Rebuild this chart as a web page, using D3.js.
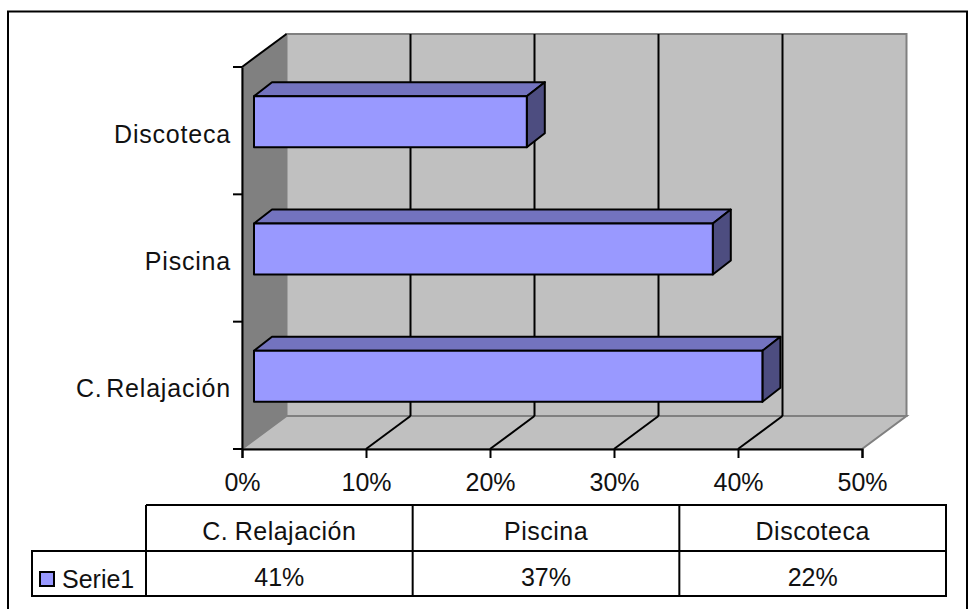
<!DOCTYPE html>
<html>
<head>
<meta charset="utf-8">
<script src="https://cdn.jsdelivr.net/npm/d3@7/dist/d3.min.js"></script>
<style>
html, body { margin: 0; padding: 0; background: #fff; }
svg { display: block; }
text { font-family: "Liberation Sans", Arial, sans-serif; font-size: 25px; fill: #111; }
.cat-axis text { letter-spacing: 0.8px; word-spacing: -4px; }
.cat-head text { letter-spacing: 0.5px; word-spacing: -1px; }
</style>
</head>
<body>
<svg id="chart" width="968" height="609"></svg>
<script>
// Survey results: preferred facilities, as percentages
const categories = ["C. Relajación", "Piscina", "Discoteca"];
const values = [41, 37, 22];
const seriesName = "Serie1";
const xTicks = [0, 10, 20, 30, 40, 50];

const colors = {
  wallBack: "#c0c0c0", wallSide: "#808080", floor: "#c0c0c0", edge: "#808080",
  barFront: "#9999ff", barTop: "#7373bf", barSide: "#4d4d80"
};

const svg = d3.select("#chart");

// Outer chart-area frame; its lower edge runs off the page
svg.append("rect")
  .attr("x", 8).attr("y", 11.5).attr("width", 959).attr("height", 610)
  .attr("fill", "#fff").attr("stroke", "#000").attr("stroke-width", 2);

// Front plane of the 3D box and the projection offset to the back plane
const x = d3.scaleLinear().domain([0, 50]).range([242, 862]);
const y = d3.scaleBand().domain(categories).range([449, 67]);
const depth = { dx: 44.5, dy: -33 };
const barInset = { dx: 12, dy: -9 };
const barDepth = { dx: 18, dy: -14 };
const barThickness = 51;

const pts = a => a.map(p => p.join(",")).join(" ");
const [x0, x1] = x.range();
const [yB, yT] = y.range();

// Back wall, side wall, floor
svg.append("polygon")
  .attr("points", pts([[x0 + depth.dx, yT + depth.dy], [x1 + depth.dx, yT + depth.dy], [x1 + depth.dx, yB + depth.dy], [x0 + depth.dx, yB + depth.dy]]))
  .attr("fill", colors.wallBack).attr("stroke", colors.edge).attr("stroke-width", 2);
svg.append("polygon")
  .attr("points", pts([[x0, yT], [x0 + depth.dx, yT + depth.dy], [x0 + depth.dx, yB + depth.dy], [x0, yB]]))
  .attr("fill", colors.wallSide).attr("stroke", colors.edge).attr("stroke-width", 1);
svg.append("polygon")
  .attr("points", pts([[x0, yB], [x1, yB], [x1 + depth.dx, yB + depth.dy], [x0 + depth.dx, yB + depth.dy]]))
  .attr("fill", colors.floor).attr("stroke", colors.edge).attr("stroke-width", 2);

// Gridlines on the back wall and across the floor
const inner = xTicks.slice(1, -1);
svg.append("g").selectAll("line").data(inner).join("line")
  .attr("x1", d => x(d) + depth.dx).attr("x2", d => x(d) + depth.dx)
  .attr("y1", yT + depth.dy).attr("y2", yB + depth.dy)
  .attr("stroke", "#000").attr("stroke-width", 2);
svg.append("g").selectAll("line").data(inner).join("line")
  .attr("x1", d => x(d)).attr("x2", d => x(d) + depth.dx)
  .attr("y1", yB).attr("y2", yB + depth.dy)
  .attr("stroke", "#000").attr("stroke-width", 2);

// Top edge of the side wall
svg.append("line")
  .attr("x1", x0).attr("y1", yT).attr("x2", x0 + depth.dx).attr("y2", yT + depth.dy)
  .attr("stroke", "#000").attr("stroke-width", 2);

// Value axis along the floor's front edge
const xAxis = svg.append("g").attr("transform", `translate(0,${yB})`)
  .call(d3.axisBottom(x).tickValues(xTicks).tickFormat(d => d + "%").tickSize(9).tickPadding(15));
xAxis.attr("font-family", null).attr("font-size", null);
xAxis.selectAll("line").attr("stroke", "#000").attr("stroke-width", 2);
xAxis.select(".domain").attr("stroke", "#000").attr("stroke-width", 2);

// Category axis: ticks fall on the band boundaries
const yAxis = svg.append("g").attr("class", "cat-axis").attr("transform", `translate(${x0},0)`)
  .call(d3.axisLeft(y).tickSize(0).tickPadding(11));
yAxis.attr("font-family", null).attr("font-size", null);
yAxis.select(".domain").attr("stroke", "#000").attr("stroke-width", 2);
yAxis.selectAll("text").attr("dy", "12px");
svg.append("g").selectAll("line")
  .data([...categories.map(c => y(c)), yB]).join("line")
  .attr("x1", x0 - 9).attr("x2", x0)
  .attr("y1", d => d).attr("y2", d => d)
  .attr("stroke", "#000").attr("stroke-width", 2);

// 3D bars: top, end cap and front faces
const bars = svg.append("g").selectAll("g").data(categories).join("g");
const barX0 = x(0) + barInset.dx;
const barEnd = (c, i) => x(values[i]) + barInset.dx;
const barTop = c => y(c) + y.bandwidth() / 2 + barInset.dy - barThickness / 2;
const barStroke = sel => sel.attr("stroke", "#000").attr("stroke-width", 2).attr("stroke-linejoin", "round");

bars.append("polygon")
  .attr("points", (c, i) => pts([[barX0, barTop(c)], [barEnd(c, i), barTop(c)],
    [barEnd(c, i) + barDepth.dx, barTop(c) + barDepth.dy], [barX0 + barDepth.dx, barTop(c) + barDepth.dy]]))
  .attr("fill", colors.barTop).call(barStroke);
bars.append("polygon")
  .attr("points", (c, i) => pts([[barEnd(c, i), barTop(c)], [barEnd(c, i) + barDepth.dx, barTop(c) + barDepth.dy],
    [barEnd(c, i) + barDepth.dx, barTop(c) + barDepth.dy + barThickness], [barEnd(c, i), barTop(c) + barThickness]]))
  .attr("fill", colors.barSide).call(barStroke);
bars.append("rect")
  .attr("x", barX0).attr("y", barTop)
  .attr("width", (c, i) => barEnd(c, i) - barX0).attr("height", barThickness)
  .attr("fill", colors.barFront).call(barStroke);

// Data table under the chart
const col = d3.scaleBand().domain(categories).range([146, 946]);
const tableRows = { top: 505, mid: 551, bottom: 596 };
const legendLeft = 32;
const table = svg.append("g").attr("fill", "none").attr("stroke", "#000").attr("stroke-width", 2);
table.append("path").attr("d", [
  `M${col.range()[0]},${tableRows.top}H${col.range()[1]}V${tableRows.bottom}H${legendLeft}V${tableRows.mid}H${col.range()[1]}`,
  ...[col.range()[0], ...categories.slice(1).map(c => col(c))].map(v => `M${v},${tableRows.top}V${tableRows.bottom}`)
].join(""));

const cellX = c => col(c) + col.bandwidth() / 2;
svg.append("g").attr("class", "cat-head").selectAll("text").data(categories).join("text")
  .attr("x", cellX).attr("y", 539.5).attr("text-anchor", "middle").text(c => c);
svg.append("g").selectAll("text").data(values).join("text")
  .attr("x", (v, i) => cellX(categories[i])).attr("y", 586).attr("text-anchor", "middle").text(v => v + "%");

// Legend key and series name
svg.append("rect").attr("x", 40).attr("y", 572).attr("width", 14).attr("height", 14)
  .attr("fill", colors.barFront).attr("stroke", "#000").attr("stroke-width", 2);
svg.append("text").attr("x", 62).attr("y", 588).text(seriesName);
</script>
</body>
</html>
